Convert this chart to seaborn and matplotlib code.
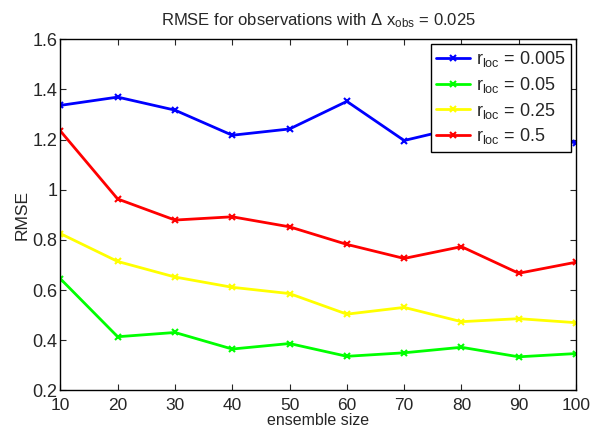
import numpy as np
import pandas as pd
import matplotlib
matplotlib.use("Agg")
import matplotlib.pyplot as plt
from matplotlib.ticker import FuncFormatter
import seaborn as sns

# data
ensemble_size = [10, 20, 30, 40, 50, 60, 70, 80, 90, 100]
rmse_0005 = [1.336, 1.369, 1.317, 1.217, 1.242, 1.352, 1.196, 1.25, 1.22, 1.187]
rmse_005 = [0.645, 0.414, 0.431, 0.365, 0.387, 0.336, 0.350, 0.372, 0.334, 0.347]
rmse_025 = [0.825, 0.714, 0.652, 0.611, 0.586, 0.504, 0.531, 0.474, 0.486, 0.470]
rmse_05 = [1.234, 0.963, 0.879, 0.892, 0.852, 0.782, 0.726, 0.773, 0.667, 0.711]

labels = [r"r$_{\rm loc}$ = 0.005", r"r$_{\rm loc}$ = 0.05",
          r"r$_{\rm loc}$ = 0.25", r"r$_{\rm loc}$ = 0.5"]
colors = ["#0000ff", "#00ff00", "#ffff00", "#ff0000"]

sns.set_style("ticks")
plt.rcParams["font.family"] = ["Liberation Sans", "DejaVu Sans"]
plt.rcParams["mathtext.fontset"] = "custom"
plt.rcParams["mathtext.rm"] = "Liberation Sans"
plt.rcParams["mathtext.it"] = "Liberation Sans"
plt.rcParams["mathtext.default"] = "regular"

fig = plt.figure(figsize=(5.92, 4.30), dpi=100)
ax = fig.add_axes([0.102, 0.092, 0.871, 0.817])

for lab, col, vals in zip(labels, colors, [rmse_0005, rmse_005, rmse_025, rmse_05]):
    d = pd.DataFrame({"ensemble size": ensemble_size, "RMSE": vals})
    sns.lineplot(data=d, x="ensemble size", y="RMSE", color=col, label=lab,
                 marker="x", markersize=4, markeredgewidth=1.5,
                 markeredgecolor=col, linewidth=2, ax=ax)

ax.set_xlim(10, 100)
ax.set_ylim(0.2, 1.6)
ax.set_xticks(ensemble_size)
ax.set_yticks(np.arange(0.2, 1.61, 0.2))
ax.yaxis.set_major_formatter(FuncFormatter(lambda v, p: "%g" % round(v, 1)))
ax.tick_params(direction="in", top=True, right=True, labelsize=13,
               length=4, width=0.8)
ax.tick_params(axis="x", pad=5.5, labelsize=12.5)
ax.tick_params(axis="y", pad=2)
for s in ax.spines.values():
    s.set_linewidth(1)
    s.set_color("black")

ax.set_xlabel("ensemble size", fontsize=11.5, labelpad=0)
ax.set_ylabel("RMSE", fontsize=12.5, labelpad=2)
ax.set_title(r"RMSE for observations with $\Delta$ x$_{\rm obs}$ = 0.025",
             fontsize=12, pad=10)

leg = ax.legend(loc="upper right", bbox_to_anchor=(0.99, 0.987),
                fontsize=13, frameon=True, fancybox=False,
                borderaxespad=0, handlelength=1.9, handletextpad=0.3,
                labelspacing=0.32, borderpad=0.3)
leg.get_frame().set_edgecolor("black")
leg.get_frame().set_linewidth(1)
leg.get_frame().set_alpha(1)

fig.savefig("out.png", dpi=100)
